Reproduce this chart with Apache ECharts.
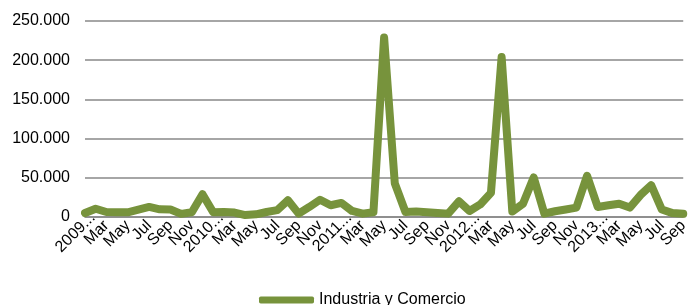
<!DOCTYPE html>
<html>
<head>
<meta charset="utf-8">
<script src="https://cdn.jsdelivr.net/npm/echarts@6/dist/echarts.min.js"></script>
<style>html,body{margin:0;padding:0;background:#fff}#c{width:691px;height:305px}</style>
</head>
<body>
<div id="c"></div>
<script>
const categories = [
  "2009...","Feb","Mar","Abr","May","Jun","Jul","Ago","Sep","Oct","Nov","Dic",
  "2010...","Feb","Mar","Abr","May","Jun","Jul","Ago","Sep","Oct","Nov","Dic",
  "2011...","Feb","Mar","Abr","May","Jun","Jul","Ago","Sep","Oct","Nov","Dic",
  "2012...","Feb","Mar","Abr","May","Jun","Jul","Ago","Sep","Oct","Nov","Dic",
  "2013...","Feb","Mar","Abr","May","Jun","Jul","Ago","Sep"
];
const seriesName = "Industria y Comercio";
const values = [
  5000, 10500, 6400, 6000, 6000, 9500, 12800, 9800, 9500, 4000, 6000, 29000,
  6000, 6500, 5600, 2500, 3400, 6400, 8700, 21400, 4300, 12800, 22000, 15000,
  18000, 7700, 4300, 6000, 229000, 43000, 6400, 7000, 6000, 5000, 4300, 20000,
  7700, 16000, 30800, 204000, 7000, 17000, 50500, 4300, 7300, 9500, 12000, 52600,
  12800, 15000, 17000, 12000, 28000, 40600, 9500, 5000, 4000
];
const yTicks = [0, 50000, 100000, 150000, 200000, 250000];

const FONT = 'Liberation Sans, Arial, sans-serif';
const chart = echarts.init(document.getElementById('c'), null, {renderer: 'canvas'});
const fmt = v => v === 0 ? '0' : String(v).replace(/\B(?=(\d{3})+(?!\d))/g, '.');
const catData = categories.map(c => /^\d{4}/.test(c)
  ? {value: c, textStyle: {padding: [32, -11, 0, 0]}}
  : c);
chart.setOption({
  animation: false,
  textStyle: {fontFamily: FONT},
  grid: {left: 85, right: 3, top: 21, bottom: 88, containLabel: false},
  xAxis: {
    type: 'category',
    data: catData,
    boundaryGap: false,
    axisLine: {show: true, lineStyle: {color: '#888888', width: 1.5}},
    axisTick: {show: false},
    axisLabel: {
      interval: 0,
      rotate: 45,
      fontSize: 16,
      color: '#000',
      margin: 6,
      fontFamily: FONT,
      showMinLabel: true,
      showMaxLabel: true,
      hideOverlap: false,
      formatter: (val, idx) => (idx % 2 === 0 ? val : '')
    }
  },
  yAxis: {
    type: 'value',
    min: yTicks[0],
    max: yTicks[yTicks.length - 1],
    interval: yTicks[1] - yTicks[0],
    axisLine: {show: false},
    axisTick: {show: false},
    splitLine: {lineStyle: {color: '#888888', width: 1.5}},
    axisLabel: {
      fontSize: 16,
      color: '#000',
      margin: 15,
      fontFamily: FONT,
      formatter: v => fmt(v)
    }
  },
  legend: {
    data: [{name: seriesName, icon: 'roundRect'}],
    left: 254,
    top: 287,
    itemWidth: 55,
    itemHeight: 7,
    itemGap: 4,
    textStyle: {fontSize: 16, color: '#000', fontFamily: FONT}
  },
  series: [{
    name: seriesName,
    type: 'line',
    data: values,
    showSymbol: false,
    symbol: 'none',
    lineStyle: {color: '#77933C', width: 8, cap: 'round', join: 'round'},
    itemStyle: {color: '#77933C'}
  }]
});
</script>
</body>
</html>
